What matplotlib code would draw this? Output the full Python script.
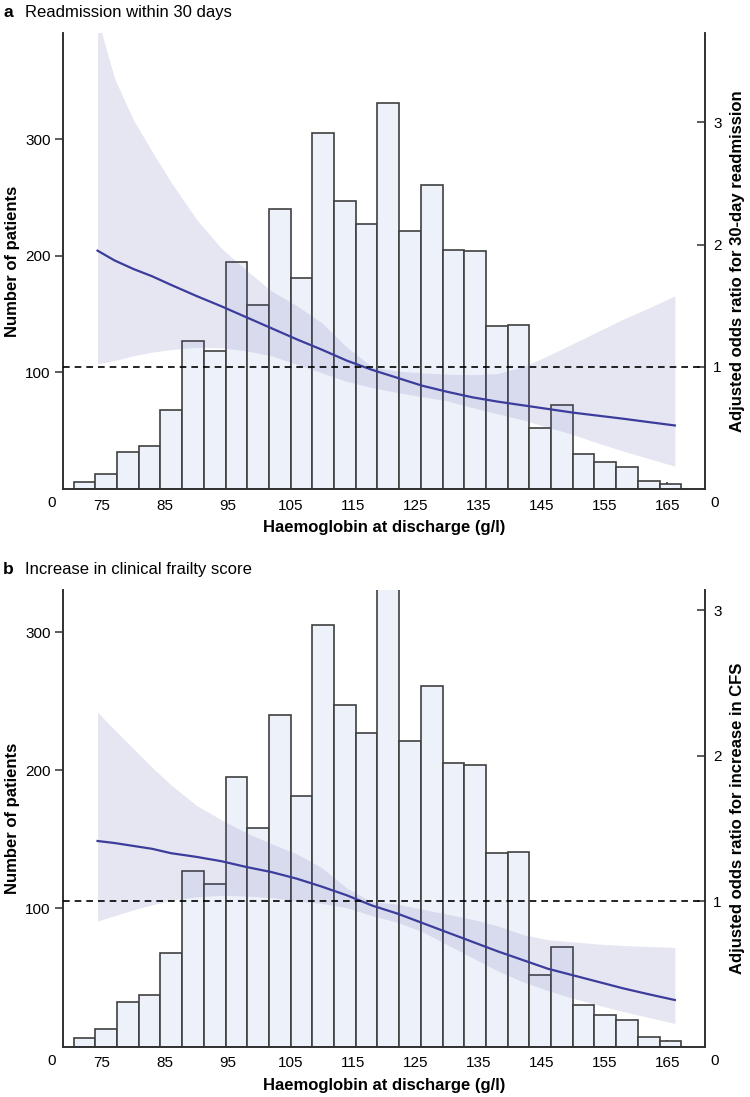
import matplotlib
matplotlib.use("Agg")
import matplotlib.pyplot as plt
import matplotlib.transforms as mtransforms
import numpy as np

plt.rcParams['font.family'] = ['Liberation Sans', 'DejaVu Sans']

# ---------------- data ----------------
bin_start = 70.5
bin_width = 3.454
counts = [6, 13, 32, 37, 68, 127, 118, 195, 158, 240, 181, 305, 247, 227,
          331, 221, 261, 205, 204, 140, 141, 52, 72, 30, 23, 19, 7, 4]

hb = [74.3, 77, 80, 83, 86, 90, 94, 98, 102, 106, 110, 114, 118, 122, 126,
      130, 134, 138, 142, 146, 150, 154, 158, 162, 166.2]

or_a = [1.95, 1.87, 1.80, 1.74, 1.67, 1.58, 1.495, 1.405, 1.315, 1.225, 1.14,
        1.05, 0.975, 0.91, 0.845, 0.795, 0.75, 0.715, 0.685, 0.655, 0.625,
        0.60, 0.575, 0.548, 0.52]
up_a = [3.85, 3.36, 3.02, 2.76, 2.51, 2.21, 1.97, 1.79, 1.62, 1.50, 1.36,
        1.16, 1.00, 0.965, 0.95, 0.94, 0.935, 0.945, 1.00, 1.09, 1.19, 1.29,
        1.39, 1.48, 1.58]
lo_a = [1.024, 1.05, 1.09, 1.12, 1.14, 1.16, 1.155, 1.13, 1.09, 1.02, 0.95,
        0.88, 0.83, 0.79, 0.755, 0.72, 0.665, 0.615, 0.565, 0.505, 0.445,
        0.375, 0.31, 0.25, 0.187]

or_b = [1.414, 1.40, 1.38, 1.36, 1.33, 1.305, 1.275, 1.235, 1.20, 1.155, 1.10,
        1.04, 0.97, 0.915, 0.85, 0.785, 0.72, 0.655, 0.595, 0.535, 0.49,
        0.445, 0.40, 0.36, 0.32]
up_b = [2.30, 2.18, 2.05, 1.92, 1.80, 1.66, 1.56, 1.47, 1.395, 1.325, 1.23,
        1.09, 0.995, 0.98, 0.945, 0.91, 0.875, 0.83, 0.77, 0.735, 0.72, 0.705,
        0.695, 0.688, 0.682]
lo_b = [0.863, 0.90, 0.94, 0.975, 1.005, 1.03, 1.04, 1.035, 1.025, 1.00,
        0.985, 0.955, 0.90, 0.855, 0.79, 0.70, 0.61, 0.52, 0.445, 0.385,
        0.331, 0.285, 0.24, 0.20, 0.159]

x_ticks = [75, 85, 95, 105, 115, 125, 135, 145, 155, 165]
left_ticks = [100, 200, 300]
right_ticks = [1, 2, 3]

panels = [
    dict(letter='a', title='Readmission within 30 days',
         rlabel='Adjusted odds ratio for 30-day readmission',
         ortop=3.73, ctop=391, orv=or_a, up=up_a, lo=lo_a,
         rect=[0.084, 0.5542, 0.856, 0.4157]),
    dict(letter='b', title='Increase in clinical frailty score',
         rlabel='Adjusted odds ratio for increase in CFS',
         ortop=3.14, ctop=330.4, orv=or_b, up=up_b, lo=lo_b,
         rect=[0.084, 0.0460, 0.856, 0.4161]),
]

W, H = 750, 1097
fig = plt.figure(figsize=(W / 100, H / 100), dpi=100)

edges = bin_start + bin_width * np.arange(len(counts) + 1)
bar_fc = '#edf2fa'
bar_ec = '#404040'
band_c = '#5a5aa8'
line_c = '#3c3c9c'
fs = 12
tfs = 11

for p in panels:
    ax = fig.add_axes(p['rect'])
    ax.bar(edges[:-1], counts, width=bin_width, align='edge',
           facecolor=bar_fc, edgecolor=bar_ec, linewidth=1.2, zorder=2)
    ax.set_xlim(68.8, 171.0)
    ax.set_ylim(0, p['ctop'])
    ax.set_yticks(left_ticks)
    ax.set_xticks(x_ticks)
    ax.spines['top'].set_visible(False)
    for s in ['left', 'bottom', 'right']:
        ax.spines[s].set_linewidth(1.2)
        ax.spines[s].set_color('#303030')
    ax.tick_params(axis='y', direction='out', length=6, width=1.1,
                   labelsize=tfs, pad=3, color='#303030')
    ax.tick_params(axis='x', direction='in', length=5, width=1.1,
                   labelsize=tfs, pad=7, color='#303030')
    ax.set_xlabel('Haemoglobin at discharge (g/l)', fontsize=fs,
                  fontweight='bold')
    ax.set_ylabel('Number of patients', fontsize=fs, fontweight='bold')
    ax_w_px = p['rect'][2] * W
    ax_h_px = p['rect'][3] * H
    ax.yaxis.set_label_coords(-(63 - 20) / ax_w_px, 0.5)
    ax.xaxis.set_label_coords(0.5, -31 / ax_h_px)

    ax2 = ax.twinx()
    ax2.set_ylim(0, p['ortop'])
    ax2.set_yticks(right_ticks)
    ax2.spines['top'].set_visible(False)
    for s in ['left', 'bottom', 'right']:
        ax2.spines[s].set_linewidth(1.2)
        ax2.spines[s].set_color('#303030')
    ax2.tick_params(axis='y', direction='in', length=6, width=1.1,
                    labelsize=tfs, pad=6, color='#303030')
    ax2.fill_between(hb, p['lo'], p['up'], color=band_c, alpha=0.15,
                     linewidth=0, zorder=3)
    ax2.plot(hb, p['orv'], color=line_c, linewidth=1.6, zorder=4)
    ax2.axhline(1, color='black', linestyle=(0, (4, 3)), linewidth=1.2,
                zorder=5)
    ax2.set_ylabel(p['rlabel'], fontsize=fs, fontweight='bold',
                   rotation=90)
    ax2.yaxis.set_label_coords(1 + (730 - 705) / ax_w_px, 0.5)

    # corner zero labels
    trans = mtransforms.offset_copy(ax.transAxes, fig=fig, x=-11, y=-14,
                                    units='dots')
    ax.text(0, 0, '0', transform=trans, ha='center', va='center',
            fontsize=tfs)
    trans2 = mtransforms.offset_copy(ax.transAxes, fig=fig, x=10, y=-14,
                                     units='dots')
    ax.text(1, 0, '0', transform=trans2, ha='center', va='center',
            fontsize=tfs)

    # panel title
    top_px = (1 - (p['rect'][1] + p['rect'][3])) * H
    ty = 1 - (top_px - 21) / H
    fig.text(0.004, ty, p['letter'], fontsize=fs + 0.5, fontweight='bold',
             ha='left', va='center')
    fig.text(0.033, ty, p['title'], fontsize=fs, ha='left',
             va='center')

fig.savefig('out.png', dpi=100)
